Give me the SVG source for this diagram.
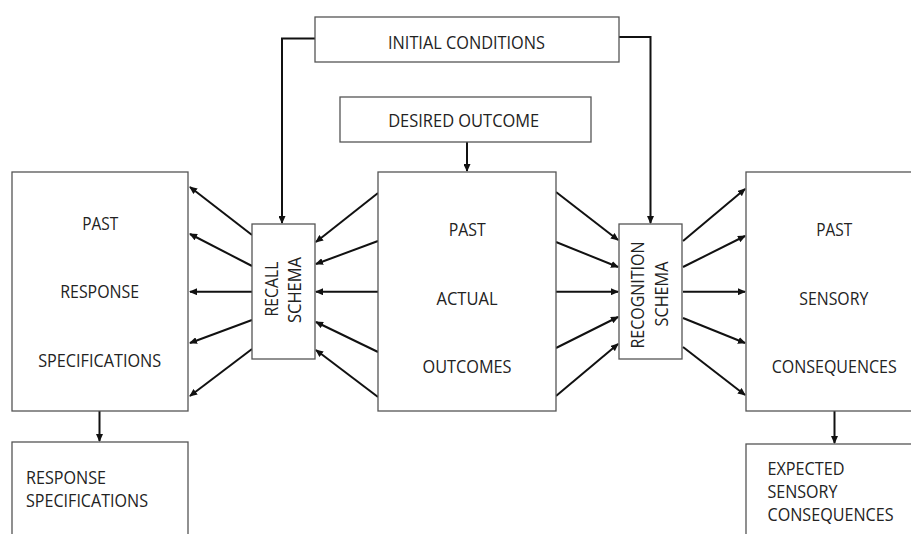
<svg xmlns="http://www.w3.org/2000/svg" width="911" height="534" viewBox="0 0 911 534">
<style>
.box{fill:#fff;stroke:#555;stroke-width:1.3}
.t{font-family:"Open Sans","Liberation Sans",sans-serif;font-size:18px;fill:#222;text-anchor:middle}
.tl{font-family:"Open Sans","Liberation Sans",sans-serif;font-size:18px;fill:#222}
.c{fill:none;stroke:#111;stroke-width:2}
.a{fill:none;stroke:#111;stroke-width:2;marker-end:url(#ah)}
</style>
<defs>
<marker id="ah" markerUnits="userSpaceOnUse" markerWidth="8" markerHeight="7" viewBox="0 0 8 7" refX="7" refY="3.5" orient="auto">
<path d="M0,0 L8,3.5 L0,7 z" fill="#111"/>
</marker>
</defs>
<rect width="911" height="534" fill="#fff"/>
<g id="connectors">
<polyline class="a" points="315,38.5 282,38.5 282,223"/>
<polyline class="a" points="619,37 650.5,37 650.5,223"/>
<line class="a" x1="467" y1="142" x2="467" y2="171"/>
<line class="a" x1="252" y1="235" x2="190" y2="187"/>
<line class="a" x1="252" y1="266" x2="190" y2="234"/>
<line class="a" x1="252" y1="291.7" x2="190" y2="291.7"/>
<line class="a" x1="252" y1="320" x2="190" y2="343"/>
<line class="a" x1="252" y1="349" x2="190" y2="396"/>
<line class="a" x1="378" y1="193" x2="316" y2="242"/>
<line class="a" x1="378" y1="241" x2="316" y2="264"/>
<line class="a" x1="378" y1="291.7" x2="316" y2="291.7"/>
<line class="a" x1="378" y1="352" x2="316" y2="322"/>
<line class="a" x1="378" y1="397" x2="316" y2="350"/>
<line class="a" x1="556" y1="192" x2="618" y2="240"/>
<line class="a" x1="556" y1="242" x2="618" y2="267"/>
<line class="a" x1="556" y1="291.7" x2="618" y2="291.7"/>
<line class="a" x1="556" y1="348" x2="618" y2="317"/>
<line class="a" x1="556" y1="396" x2="618" y2="344"/>
<line class="a" x1="683" y1="241" x2="745" y2="189"/>
<line class="a" x1="683" y1="267" x2="745" y2="236"/>
<line class="a" x1="683" y1="291.7" x2="745" y2="291.7"/>
<line class="a" x1="683" y1="318" x2="745" y2="343"/>
<line class="a" x1="683" y1="347" x2="745" y2="395"/>
<line class="a" x1="99.5" y1="411" x2="99.5" y2="441"/>
<line class="a" x1="834.5" y1="411" x2="834.5" y2="443"/>
</g>
<g id="initial-conditions">
<rect class="box" x="315" y="17" width="304" height="45"/>
<text class="t" x="466.5" y="49" textLength="157" lengthAdjust="spacingAndGlyphs">INITIAL CONDITIONS</text>
</g>
<g id="desired-outcome">
<rect class="box" x="340" y="97" width="251" height="45"/>
<text class="t" x="463.7" y="126.5" textLength="151" lengthAdjust="spacingAndGlyphs">DESIRED OUTCOME</text>
</g>
<g id="past-response-specifications">
<rect class="box" x="12" y="172" width="176" height="239"/>
<text class="t" x="100.3" y="230" textLength="36" lengthAdjust="spacingAndGlyphs">PAST</text>
<text class="t" x="99.7" y="298" textLength="79" lengthAdjust="spacingAndGlyphs">RESPONSE</text>
<text class="t" x="99.7" y="366.5" textLength="123" lengthAdjust="spacingAndGlyphs">SPECIFICATIONS</text>
</g>
<g id="recall-schema">
<rect class="box" x="252" y="224" width="63" height="135"/>
<text class="t" transform="translate(278,289) rotate(-90)" textLength="55" lengthAdjust="spacingAndGlyphs">RECALL</text>
<text class="t" transform="translate(301,290) rotate(-90)" textLength="66" lengthAdjust="spacingAndGlyphs">SCHEMA</text>
</g>
<g id="past-actual-outcomes">
<rect class="box" x="378" y="172" width="178" height="239"/>
<text class="t" x="467.3" y="236" textLength="37" lengthAdjust="spacingAndGlyphs">PAST</text>
<text class="t" x="467" y="305" textLength="61" lengthAdjust="spacingAndGlyphs">ACTUAL</text>
<text class="t" x="467" y="373" textLength="89" lengthAdjust="spacingAndGlyphs">OUTCOMES</text>
</g>
<g id="recognition-schema">
<rect class="box" x="619" y="224" width="63" height="135"/>
<text class="t" transform="translate(644,295) rotate(-90)" textLength="107" lengthAdjust="spacingAndGlyphs">RECOGNITION</text>
<text class="t" transform="translate(668,294) rotate(-90)" textLength="65" lengthAdjust="spacingAndGlyphs">SCHEMA</text>
</g>
<g id="past-sensory-consequences">
<rect class="box" x="746" y="172" width="200" height="239"/>
<text class="t" x="834.2" y="236" textLength="36" lengthAdjust="spacingAndGlyphs">PAST</text>
<text class="t" x="833.8" y="305" textLength="69" lengthAdjust="spacingAndGlyphs">SENSORY</text>
<text class="t" x="834.2" y="373" textLength="125" lengthAdjust="spacingAndGlyphs">CONSEQUENCES</text>
</g>
<g id="response-specifications">
<rect class="box" x="12" y="442" width="176" height="120"/>
<text class="tl" x="26" y="484" textLength="80" lengthAdjust="spacingAndGlyphs">RESPONSE</text>
<text class="tl" x="26" y="506.5" textLength="122" lengthAdjust="spacingAndGlyphs">SPECIFICATIONS</text>
</g>
<g id="expected-sensory-consequences">
<rect class="box" x="746" y="444" width="200" height="120"/>
<text class="tl" x="767.5" y="475" textLength="77" lengthAdjust="spacingAndGlyphs">EXPECTED</text>
<text class="tl" x="767.5" y="498" textLength="70" lengthAdjust="spacingAndGlyphs">SENSORY</text>
<text class="tl" x="767.5" y="521" textLength="126" lengthAdjust="spacingAndGlyphs">CONSEQUENCES</text>
</g>
</svg>
